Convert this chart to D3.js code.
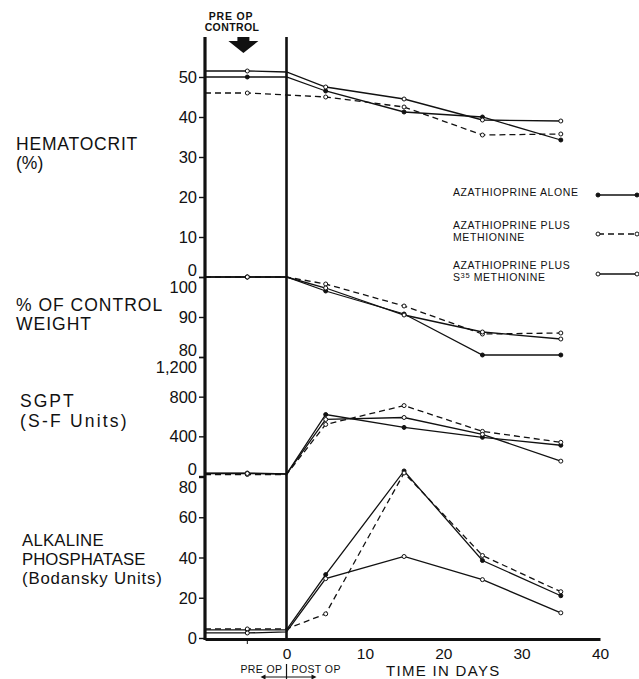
<!DOCTYPE html>
<html><head><meta charset="utf-8">
<script src="https://cdn.jsdelivr.net/npm/d3@7"></script>
<style>
body{margin:0;background:#fff;}
svg{display:block;font-family:"Liberation Sans",Arial,sans-serif;}
</style></head>
<body><svg id="c" width="639" height="679"></svg>
<script>
// ---- data ----
const days = [-5, 0, 5, 15, 25, 35];
const seriesNames = ["AZATHIOPRINE ALONE", "AZATHIOPRINE PLUS|METHIONINE", "AZATHIOPRINE PLUS|S35 METHIONINE"];

const hematA = [50, 50, 46.5, 41.25, 40, 34.25];
const hematB = [46, 45.5, 45, 42.5, 35.5, 35.75];
const hematC = [51.5, 51.25, 47.5, 44.5, 39.25, 39];

const weightA = [100, 100, 96.5, 90.75, 80.5, 80.5];
const weightB = [100, 100, 98.25, 92.75, 85.75, 86];
const weightC = [100, 100, 97.25, 90.5, 86.25, 84.5];

const sgptA = [30, 20, 620, 490, 390, 310];
const sgptB = [15, 15, 520, 710, 450, 340];
const sgptC = [25, 20, 570, 590, 420, 150];

const alkA = [4, 4, 31.5, 83, 38.5, 21];
const alkB = [4.5, 4.5, 12, 82, 41, 23];
const alkC = [2.5, 3, 29.5, 40.5, 29, 12.5];

const hematTicks = [0, 10, 20, 30, 40, 50];
const weightTicks = [80, 90, 100];
const sgptTicks = [0, 400, 800, 1200];
const alkTicks = [0, 20, 40, 60, 80];
const xTicks = [0, 10, 20, 30, 40];

const panelTitles = [
  ["HEMATOCRIT", "(%)"],
  ["% OF CONTROL", "WEIGHT"],
  ["SGPT", "(S-F Units)"],
  ["ALKALINE", "PHOSPHATASE", "(Bodansky Units)"]
];

// ---- scales ----
const svg = d3.select("#c");
const x = d3.scaleLinear().domain([-10.4, 40]).range([205, 600]);
const panels = [
  {y: d3.scaleLinear().domain([0, 50]).range([277, 77]), ticks: hematTicks, data: [hematA, hematB, hematC], up: [0], down: []},
  {y: d3.scaleLinear().domain([80, 100]).range([357, 277]), ticks: weightTicks, data: [weightA, weightB, weightC], up: [80], down: [100]},
  {y: d3.scaleLinear().domain([0, 1200]).range([476, 357]), ticks: sgptTicks, data: [sgptA, sgptB, sgptC], up: [0], down: [1200]},
  {y: d3.scaleLinear().domain([0, 80]).range([638, 477]), ticks: alkTicks, data: [alkA, alkB, alkC], up: [], down: [80]}
];
const fmt = d3.format(",");
const styles = [
  {dash: null, fill: "#111"},
  {dash: "6,4", fill: "#fff"},
  {dash: null, fill: "#fff"}
];

// ---- axes ----
const axTop = 37, axBottom = 639;
svg.append("line").attr("x1", x.range()[0]).attr("x2", x.range()[0]).attr("y1", axTop).attr("y2", axBottom + 1)
  .attr("stroke", "#111").attr("stroke-width", 3.2);
svg.append("line").attr("x1", x(0)).attr("x2", x(0)).attr("y1", axTop).attr("y2", axBottom)
  .attr("stroke", "#111").attr("stroke-width", 2.6);

panels.forEach(p => {
  const g = svg.append("g").attr("transform", `translate(${x.range()[0] - 1},0)`)
    .call(d3.axisLeft(p.y).tickValues(p.ticks).tickFormat(fmt).tickSize(5).tickPadding(2));
  g.select(".domain").remove();
  g.selectAll(".tick line").attr("stroke", "#111").attr("stroke-width", 1.4);
  g.selectAll(".tick text").attr("font-size", 16.5).attr("fill", "#111")
    .attr("dy", d => p.up.includes(d) ? "-0.12em" : p.down.includes(d) ? "0.95em" : "0.34em");
});

// x axis
const gx = svg.append("g").attr("transform", `translate(0,${axBottom})`)
  .call(d3.axisBottom(x).tickValues(xTicks).tickSize(0).tickPadding(9));
gx.select(".domain").attr("stroke", "#111").attr("stroke-width", 3.2);
gx.selectAll(".tick text").attr("font-size", 15.5).attr("fill", "#111");
svg.append("line").attr("x1", x(-5)).attr("x2", x(-5)).attr("y1", axBottom).attr("y2", axBottom + 5)
  .attr("stroke", "#111").attr("stroke-width", 1);

// ---- data lines ----
panels.forEach(p => {
  p.data.forEach((vals, si) => {
    const pts = [[x.domain()[0], vals[0]]].concat(days.map((d, i) => [d, vals[i]]));
    const line = d3.line().x(d => x(d[0])).y(d => p.y(d[1]));
    svg.append("path").attr("d", line(pts)).attr("fill", "none").attr("stroke", "#111")
      .attr("stroke-width", 1.3).attr("stroke-dasharray", styles[si].dash);
    svg.selectAll(null).data(days.map((d, i) => [d, vals[i]]).filter((d, i) => i !== 1)).enter()
      .append("circle").attr("cx", d => x(d[0])).attr("cy", d => p.y(d[1])).attr("r", 2)
      .attr("fill", styles[si].fill).attr("stroke", "#111").attr("stroke-width", 1);
  });
});

// ---- panel titles ----
const titlePos = [
  {x: 16, y: 150, dy: 18.5, ls: [0.8, 0]},
  {x: 16, y: 311, dy: 19, ls: [1, 1]},
  {x: 20, y: 407, dy: 20, ls: [2, 2.2]},
  {x: 22, y: 546, dy: 19, ls: [0.2, 0, 0.8]}
];
panelTitles.forEach((lines, i) => {
  lines.forEach((t, j) => {
    svg.append("text").attr("x", titlePos[i].x).attr("y", titlePos[i].y + j * titlePos[i].dy)
      .attr("font-size", i === 3 ? 16.8 : 17.5).attr("fill", "#111").attr("letter-spacing", titlePos[i].ls[j]).text(t);
  });
});

// ---- legend ----
const legY = [195, 234, 274];
seriesNames.forEach((n, i) => {
  const parts = n.split("|");
  parts.forEach((p, j) => {
    const ty = legY[i] + 1 + (parts.length > 1 ? (j === 0 ? -6 : 6) : 0);
    const tg = svg.append("text").attr("x", 453).attr("y", ty).attr("font-size", 10.5)
      .attr("fill", "#111").attr("letter-spacing", 0.6);
    if (p.startsWith("S35")) {
      tg.append("tspan").text("S");
      tg.append("tspan").attr("dy", -3).attr("font-size", 7.5).text("35");
      tg.append("tspan").attr("dy", 3).text("  METHIONINE");
    } else tg.text(p);
  });
  const lx = d3.scaleLinear().domain([0, 1]).range([598, 637]);
  svg.append("line").attr("x1", lx(0)).attr("x2", lx(1)).attr("y1", legY[i]).attr("y2", legY[i])
    .attr("stroke", "#111").attr("stroke-width", 1.3).attr("stroke-dasharray", styles[i].dash);
  [0, 1].forEach(k => svg.append("circle").attr("cx", lx(k)).attr("cy", legY[i]).attr("r", 2)
    .attr("fill", styles[i].fill).attr("stroke", "#111"));
});

// ---- top annotation ----
const ax0 = x(-5.5);
svg.append("text").attr("x", 231).attr("y", 20).attr("text-anchor", "middle").attr("font-size", 10.5)
  .attr("font-weight", "bold").attr("letter-spacing", 0.8).attr("fill", "#111").text("PRE  OP");
svg.append("text").attr("x", 232).attr("y", 31).attr("text-anchor", "middle").attr("font-size", 10.5)
  .attr("font-weight", "bold").attr("letter-spacing", 0.4).attr("fill", "#111").text("CONTROL");
svg.append("path").attr("fill", "#111")
  .attr("d", `M${ax0 - 6},37 L${ax0 + 6},37 L${ax0 + 6},41 L${ax0 + 15},41 L${ax0},53 L${ax0 - 15},41 L${ax0 - 6},41 Z`);

// ---- bottom annotation ----
svg.append("text").attr("x", x(0) - 4).attr("y", 673).attr("text-anchor", "end").attr("font-size", 10.5)
  .attr("fill", "#111").attr("letter-spacing", 0.4).text("PRE OP");
svg.append("text").attr("x", x(0) + 5).attr("y", 673).attr("font-size", 10.5)
  .attr("fill", "#111").attr("letter-spacing", 0.4).text("POST OP");
svg.append("line").attr("x1", x(0)).attr("x2", x(0)).attr("y1", 664).attr("y2", 679).attr("stroke", "#111").attr("stroke-width", 1.2);
svg.append("line").attr("x1", x(0) - 24).attr("x2", x(0) + 28).attr("y1", 677).attr("y2", 677).attr("stroke", "#111").attr("stroke-width", 1);
svg.append("path").attr("fill", "#111").attr("d", `M${x(0) - 26},677 l5,-2.5 l0,5 Z M${x(0) + 30},677 l-5,-2.5 l0,5 Z`);
svg.append("text").attr("x", 386).attr("y", 676).attr("font-size", 15).attr("fill", "#111")
  .attr("letter-spacing", 1.3).text("TIME IN DAYS");
</script></body></html>
